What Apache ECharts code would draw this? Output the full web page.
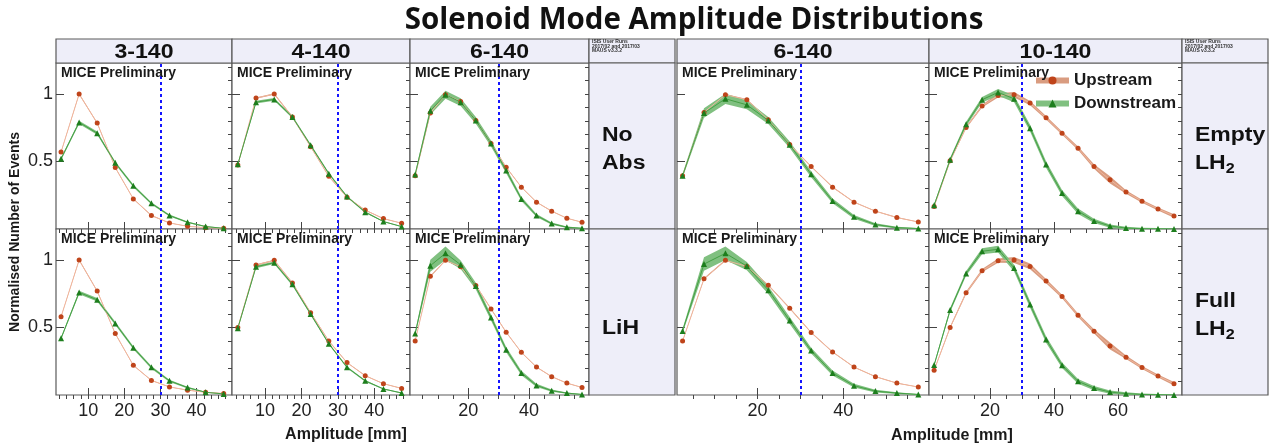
<!DOCTYPE html>
<html><head><meta charset="utf-8">
<script src="https://cdn.jsdelivr.net/npm/echarts@6/dist/echarts.min.js"></script>
<style>html,body{margin:0;padding:0;background:#fff}#c{width:1272px;height:448px}</style>
</head><body><div id="c"></div>
<script>
// ---------------- DATA ----------------
const chartTitle = 'Solenoid Mode Amplitude Distributions';
const colTitles = ['3-140', '4-140', '6-140', '6-140', '10-140'];
const rowLabelsLeft = ['{b|No}\n{b|Abs}', '{b|LiH}'];
const rowLabelsRight = ['{b|Empty}\n{b|LH}{s|2}', '{b|Full}\n{b|LH}{s|2}'];
const infoText = 'ISIS User Runs\n2017/02 and 2017/03\nMAUS v3.3.2';
const xAxisTitle = 'Amplitude [mm]';
const yAxisTitle = 'Normalised Number of Events';
const watermark = 'MICE Preliminary';
const seriesNames = ['Upstream', 'Downstream'];
const cutAmplitude = 30;

const amp10 = [2.5, 7.5, 12.5, 17.5, 22.5, 27.5, 32.5, 37.5, 42.5, 47.5];
const amp12 = [2.5, 7.5, 12.5, 17.5, 22.5, 27.5, 32.5, 37.5, 42.5, 47.5, 52.5, 57.5];
const amp16 = [2.5, 7.5, 12.5, 17.5, 22.5, 27.5, 32.5, 37.5, 42.5, 47.5, 52.5, 57.5, 62.5, 67.5, 72.5, 77.5];

const xTicksA = [10, 20, 30, 40];
const xTicksB = [20, 40];
const xTicksC = [20, 40, 60];
const yTicks = [0.5, 1];

// 3-140
const p1NoAbsUp = [0.57, 1.0, 0.785, 0.455, 0.223, 0.10, 0.045, 0.02, 0.01, 0.005];
const p1NoAbsDn = [0.52, 0.79, 0.71, 0.49, 0.32, 0.19, 0.10, 0.05, 0.018, 0.005];
const p1LiHUp   = [0.58, 1.0, 0.77, 0.455, 0.22, 0.108, 0.06, 0.036, 0.02, 0.012];
const p1LiHDn   = [0.42, 0.76, 0.705, 0.53, 0.35, 0.205, 0.105, 0.055, 0.02, 0.008];
// 4-140
const p2NoAbsUp = [0.475, 0.97, 1.0, 0.83, 0.61, 0.39, 0.235, 0.14, 0.077, 0.043];
const p2NoAbsDn = [0.48, 0.94, 0.96, 0.83, 0.62, 0.41, 0.24, 0.125, 0.055, 0.018];
const p2LiHUp   = [0.50, 0.963, 0.998, 0.83, 0.61, 0.40, 0.24, 0.143, 0.084, 0.049];
const p2LiHDn   = [0.495, 0.95, 0.98, 0.82, 0.60, 0.38, 0.205, 0.105, 0.045, 0.015];
// 6-140 (left)
const p3NoAbsUp = [0.394, 0.859, 0.995, 0.945, 0.804, 0.634, 0.458, 0.31, 0.199, 0.132, 0.08, 0.05];
const p3NoAbsDn = [0.404, 0.876, 0.995, 0.94, 0.804, 0.634, 0.433, 0.223, 0.10, 0.04, 0.013, 0.005];
const p3LiHUp   = [0.40, 0.879, 0.998, 0.95, 0.812, 0.638, 0.465, 0.316, 0.207, 0.136, 0.088, 0.056];
const p3LiHDn   = [0.455, 0.958, 1.05, 0.965, 0.807, 0.574, 0.336, 0.163, 0.071, 0.032, 0.014, 0.004];
// 6-140 (right)
const p4EmptyUp = [0.394, 0.864, 0.995, 0.958, 0.81, 0.626, 0.463, 0.31, 0.199, 0.132, 0.085, 0.052];
const p4EmptyDn = [0.394, 0.859, 0.965, 0.92, 0.804, 0.624, 0.406, 0.208, 0.09, 0.033, 0.01, 0.003];
const p4FullUp  = [0.40, 0.861, 0.998, 0.953, 0.814, 0.643, 0.463, 0.319, 0.207, 0.136, 0.088, 0.059];
const p4FullDn  = [0.475, 0.97, 1.05, 0.955, 0.777, 0.552, 0.329, 0.163, 0.069, 0.029, 0.014, 0.004];
// 10-140
const p5EmptyUp = [0.166, 0.505, 0.752, 0.911, 0.99, 0.995, 0.933, 0.824, 0.71, 0.599, 0.463, 0.364, 0.275, 0.206, 0.149, 0.097];
const p5EmptyDn = [0.176, 0.513, 0.777, 0.958, 1.012, 0.965, 0.747, 0.478, 0.267, 0.132, 0.06, 0.022, 0.007, 0.002, 0.001, 0.0];
const p5FullUp  = [0.183, 0.50, 0.757, 0.921, 0.995, 1.0, 0.953, 0.844, 0.73, 0.591, 0.472, 0.363, 0.279, 0.203, 0.141, 0.084];
const p5FullDn  = [0.222, 0.629, 0.901, 1.065, 1.08, 0.941, 0.671, 0.411, 0.22, 0.101, 0.051, 0.022, 0.01, 0.004, 0.002, 0.0];

// uncertainty half-widths
const p1UpErr      = [0.004, 0.005, 0.005, 0.004, 0.003, 0.003, 0.002, 0.002, 0.001, 0.001];
const p1NoAbsDnErr = [0.010, 0.012, 0.012, 0.011, 0.010, 0.009, 0.008, 0.006, 0.004, 0.003];
const p1LiHDnErr   = [0.010, 0.013, 0.013, 0.012, 0.011, 0.010, 0.008, 0.006, 0.004, 0.003];
const p2UpErr      = [0.004, 0.005, 0.005, 0.005, 0.004, 0.004, 0.003, 0.003, 0.002, 0.002];
const p2DnErr      = [0.008, 0.010, 0.010, 0.010, 0.009, 0.008, 0.007, 0.006, 0.004, 0.003];
const p3UpErr      = [0.004, 0.005, 0.005, 0.005, 0.005, 0.004, 0.004, 0.003, 0.003, 0.003, 0.002, 0.002];
const p3NoAbsDnErr = [0.015, 0.030, 0.030, 0.028, 0.025, 0.022, 0.020, 0.016, 0.012, 0.009, 0.006, 0.004];
const p3LiHDnErr   = [0.015, 0.045, 0.050, 0.032, 0.025, 0.022, 0.020, 0.016, 0.012, 0.008, 0.005, 0.004];
const p4UpErr      = [0.004, 0.006, 0.006, 0.006, 0.005, 0.005, 0.004, 0.004, 0.003, 0.003, 0.003, 0.002];
const p4EmptyDnErr = [0.015, 0.035, 0.038, 0.032, 0.026, 0.024, 0.022, 0.018, 0.014, 0.010, 0.006, 0.004];
const p4FullDnErr  = [0.015, 0.050, 0.050, 0.030, 0.028, 0.026, 0.022, 0.018, 0.014, 0.010, 0.006, 0.004];
const p5EmptyUpErr = [0.005, 0.006, 0.008, 0.010, 0.015, 0.020, 0.016, 0.013, 0.012, 0.013, 0.016, 0.026, 0.013, 0.011, 0.011, 0.013];
const p5EmptyDnErr = [0.010, 0.015, 0.018, 0.020, 0.025, 0.025, 0.025, 0.024, 0.022, 0.020, 0.016, 0.012, 0.010, 0.008, 0.006, 0.004];
const p5FullUpErr  = [0.006, 0.008, 0.010, 0.012, 0.016, 0.022, 0.022, 0.016, 0.013, 0.013, 0.016, 0.026, 0.013, 0.011, 0.011, 0.013];
const p5FullDnErr  = [0.010, 0.015, 0.018, 0.022, 0.025, 0.025, 0.025, 0.024, 0.020, 0.018, 0.015, 0.012, 0.010, 0.008, 0.006, 0.004];

// ---------------- LAYOUT ----------------
const panelData = [
  [
    {up: p1NoAbsUp, dn: p1NoAbsDn, upErr: p1UpErr, dnErr: p1NoAbsDnErr},
    {up: p2NoAbsUp, dn: p2NoAbsDn, upErr: p2UpErr, dnErr: p2DnErr},
    {up: p3NoAbsUp, dn: p3NoAbsDn, upErr: p3UpErr, dnErr: p3NoAbsDnErr},
    {up: p4EmptyUp, dn: p4EmptyDn, upErr: p4UpErr, dnErr: p4EmptyDnErr},
    {up: p5EmptyUp, dn: p5EmptyDn, upErr: p5EmptyUpErr, dnErr: p5EmptyDnErr}
  ],
  [
    {up: p1LiHUp, dn: p1LiHDn, upErr: p1UpErr, dnErr: p1LiHDnErr},
    {up: p2LiHUp, dn: p2LiHDn, upErr: p2UpErr, dnErr: p2DnErr},
    {up: p3LiHUp, dn: p3LiHDn, upErr: p3UpErr, dnErr: p3LiHDnErr},
    {up: p4FullUp, dn: p4FullDn, upErr: p4UpErr, dnErr: p4FullDnErr},
    {up: p5FullUp, dn: p5FullDn, upErr: p5FullUpErr, dnErr: p5FullDnErr}
  ]
];
const cols = [
  {left: 56,  width: 176, min: 1.1, max: 49.8, ticks: xTicksA, minorStep: 2, x: amp10},
  {left: 232, width: 178, min: 0.9, max: 49.8, ticks: xTicksA, minorStep: 2, x: amp10},
  {left: 410, width: 179, min: 0.8, max: 59.8, ticks: xTicksB, minorStep: 5, x: amp12},
  {left: 677, width: 252, min: 1.2, max: 60,   ticks: xTicksB, minorStep: 5, x: amp12},
  {left: 929, width: 253, min: 0.9, max: 80,   ticks: xTicksC, minorStep: 5, x: amp16}
];
const rows = [{top: 63, height: 166}, {top: 229, height: 166}];
const YMAX = 1.23;
const FONT = 'Liberation Sans';
const UP_MARK = '#bf441a', UP_LINE = '#f0b59c', UP_BAND = '#d99c80';
const DN_MARK = '#1d7e1d', DN_LINE = '#45a045', DN_BAND = '#80c080';
const FRAME = '#5a5a5a', HEAD_BG = '#eeeef9';

function minorTicks(c) {
  const out = [];
  for (let v = c.minorStep; v < c.max; v += c.minorStep) if (v > c.min) out.push(v);
  return out;
}
const yMinor = [];
for (let k = 1; k <= 12; k++) yMinor.push(k / 10);

function bandSeries(xs, ys, errs, color, gi) {
  return {
    type: 'custom', xAxisIndex: 2 * gi, yAxisIndex: 2 * gi, silent: true, clip: true, z: 1,
    encode: {x: 0, y: [1, 2]},
    data: xs.map((x, i) => [x, ys[i] - errs[i], ys[i] + errs[i]]),
    renderItem: (params, api) => {
      if (params.dataIndexInside !== 0) return null;
      const n = params.dataInsideLength;
      const top = [], bot = [];
      for (let j = 0; j < n; j++) {
        top.push(api.coord([api.value(0, j), api.value(2, j)]));
        bot.push(api.coord([api.value(0, j), api.value(1, j)]));
      }
      return {type: 'polygon', shape: {points: top.concat(bot.reverse())}, style: {fill: color}};
    }
  };
}

const grids = [], xAxes = [], yAxes = [], series = [], graphics = [];
let g = 0;
rows.forEach((r, ri) => {
  cols.forEach((c, ci) => {
    const d = panelData[ri][ci];
    grids.push({left: c.left, top: r.top, width: c.width, height: r.height, show: true,
      borderColor: FRAME, borderWidth: 1.2, backgroundColor: '#fff'});
    xAxes.push({type: 'value', gridIndex: g, min: c.min, max: c.max,
      axisLine: {show: false}, splitLine: {show: false},
      axisTick: {show: true, inside: true, length: 7, customValues: c.ticks, lineStyle: {color: '#444'}},
      axisLabel: {show: ri === 1, customValues: c.ticks, fontSize: 18, color: '#222', margin: 7, fontFamily: FONT}});
    xAxes.push({type: 'value', gridIndex: g, min: c.min, max: c.max,
      axisLine: {show: false}, splitLine: {show: false},
      axisTick: {show: true, inside: true, length: 4, customValues: minorTicks(c), lineStyle: {color: '#444'}},
      axisLabel: {show: false}});
    yAxes.push({type: 'value', gridIndex: g, min: 0, max: YMAX,
      axisLine: {show: false}, splitLine: {show: false},
      axisTick: {show: true, inside: true, length: 8, customValues: yTicks, lineStyle: {color: '#444'}},
      axisLabel: {show: ci === 0, customValues: yTicks, fontSize: 18, color: '#222', margin: 3, fontFamily: FONT}});
    yAxes.push({type: 'value', gridIndex: g, min: 0, max: YMAX,
      axisLine: {show: false}, splitLine: {show: false},
      axisTick: {show: true, inside: true, length: 4, customValues: yMinor, lineStyle: {color: '#444'}},
      axisLabel: {show: false}});

    series.push(bandSeries(c.x, d.up, d.upErr, UP_BAND, g));
    series.push(bandSeries(c.x, d.dn, d.dnErr, DN_BAND, g));
    series.push({type: 'line', name: seriesNames[0], xAxisIndex: 2 * g, yAxisIndex: 2 * g, z: 3,
      data: c.x.map((x, i) => [x, d.up[i]]), symbol: 'circle', symbolSize: 5, showAllSymbol: true,
      itemStyle: {color: UP_MARK}, lineStyle: {color: UP_LINE, width: 1}, silent: true});
    series.push({type: 'line', name: seriesNames[1], xAxisIndex: 2 * g, yAxisIndex: 2 * g, z: 4,
      data: c.x.map((x, i) => [x, d.dn[i]]), symbol: 'triangle', symbolSize: 6, showAllSymbol: true,
      itemStyle: {color: DN_MARK}, lineStyle: {color: DN_LINE, width: 1}, silent: true,
      markLine: {silent: true, symbol: 'none', label: {show: false}, z: 6,
        lineStyle: {color: '#1414ff', width: 2, type: [3, 3]}, data: [{xAxis: cutAmplitude}]}});

    graphics.push({type: 'text', x: c.left + 5, y: r.top + 3, z: 20,
      style: {text: watermark, font: 'bold 14px ' + FONT, fill: '#1a1a1a', textAlign: 'left', textVerticalAlign: 'top'}});
    g++;
  });
});

// headers
const headerCells = [
  {left: 56, width: 176, t: colTitles[0]},
  {left: 232, width: 178, t: colTitles[1]},
  {left: 410, width: 179, t: colTitles[2]},
  {left: 677, width: 252, t: colTitles[3]},
  {left: 929, width: 253, t: colTitles[4]}
];
headerCells.forEach(h => {
  graphics.push({type: 'rect', shape: {x: h.left, y: 39, width: h.width, height: 24},
    style: {fill: HEAD_BG, stroke: FRAME, lineWidth: 1.2}});
  graphics.push({type: 'text', x: h.left + h.width / 2, y: 52, scaleX: 1.1, z: 10,
    style: {text: h.t, font: 'bold 21px ' + FONT, fill: '#111', textAlign: 'center', textVerticalAlign: 'middle'}});
});
// info boxes and row-label columns
const richLabel = {
  b: {fontSize: 20, fontWeight: 'bold', fontFamily: FONT, fill: '#111', lineHeight: 28},
  s: {fontSize: 14, fontWeight: 'bold', fontFamily: FONT, fill: '#111', lineHeight: 16, padding: [12, 0, 0, 0]}
};
[589, 1182].forEach((lx, bi) => {
  graphics.push({type: 'rect', shape: {x: lx, y: 39, width: 86, height: 24},
    style: {fill: HEAD_BG, stroke: FRAME, lineWidth: 1.2}});
  graphics.push({type: 'text', x: lx + 3, y: 39.5, z: 10,
    style: {text: infoText, font: 'bold 5px ' + FONT, lineHeight: 4.6, fill: '#333', textAlign: 'left', textVerticalAlign: 'top'}});
  const labels = bi === 0 ? rowLabelsLeft : rowLabelsRight;
  rows.forEach((r, ri) => {
    graphics.push({type: 'rect', shape: {x: lx, y: r.top, width: 86, height: r.height},
      style: {fill: HEAD_BG, stroke: FRAME, lineWidth: 1.2}});
    const cy = labels[ri].indexOf('\n') >= 0 ? r.top + 86 : r.top + 99;
    graphics.push({type: 'text', x: lx + 13, y: cy, scaleX: 1.15, z: 10,
      style: {text: labels[ri], rich: richLabel, font: 'bold 20px ' + FONT, fill: '#111', textAlign: 'left', textVerticalAlign: 'middle'}});
  });
});
// axis titles
graphics.push({type: 'text', x: 346, y: 435, z: 10,
  style: {text: xAxisTitle, font: 'bold 16px ' + FONT, fill: '#1a1a1a', textAlign: 'center', textVerticalAlign: 'middle'}});
graphics.push({type: 'text', x: 952, y: 436, z: 10,
  style: {text: xAxisTitle, font: 'bold 16px ' + FONT, fill: '#1a1a1a', textAlign: 'center', textVerticalAlign: 'middle'}});
graphics.push({type: 'text', x: 15, y: 232, rotation: Math.PI / 2, z: 10,
  style: {text: yAxisTitle, font: 'bold 14px ' + FONT, fill: '#1a1a1a', textAlign: 'center', textVerticalAlign: 'middle'}});

const option = {
  animation: false,
  backgroundColor: '#fff',
  title: {text: chartTitle, left: 689, top: 1, textAlign: 'center',
    textStyle: {fontFamily: 'Open Sans', fontWeight: 'bold', fontSize: 29.5, color: '#111'}},
  legend: {left: 1033, top: 72, padding: 0, orient: 'vertical', itemWidth: 33, itemHeight: 10, itemGap: 6,
    selectedMode: false,
    textStyle: {fontSize: 17, fontWeight: 'bold', color: '#1a1a1a', fontFamily: FONT},
    data: [
      {name: seriesNames[0], itemStyle: {color: UP_MARK}, lineStyle: {color: UP_BAND, width: 6}},
      {name: seriesNames[1], itemStyle: {color: DN_MARK}, lineStyle: {color: DN_BAND, width: 6}}
    ]},
  grid: grids, xAxis: xAxes, yAxis: yAxes, series: series, graphic: graphics
};
const chart = echarts.init(document.getElementById('c'));
chart.setOption(option);
</script></body></html>
